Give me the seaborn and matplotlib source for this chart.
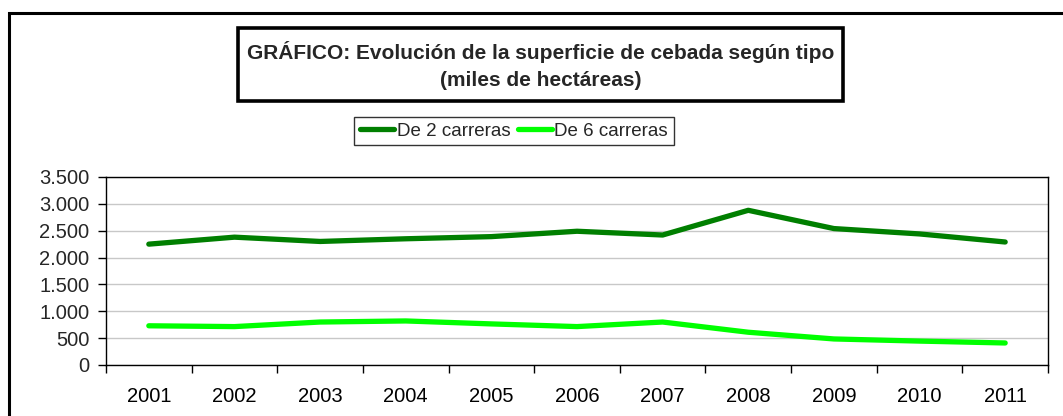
import numpy as np
import pandas as pd
import matplotlib
matplotlib.use("Agg")
import matplotlib.pyplot as plt
import seaborn as sns
from matplotlib.patches import Rectangle
from matplotlib.ticker import FixedLocator, FuncFormatter

years = ["2001", "2002", "2003", "2004", "2005", "2006", "2007", "2008", "2009", "2010", "2011"]
dos_carreras = [2250, 2380, 2300, 2350, 2390, 2490, 2420, 2880, 2540, 2440, 2290]
seis_carreras = [730, 715, 800, 820, 765, 715, 800, 610, 485, 445, 410]
series_names = ["De 2 carreras", "De 6 carreras"]
colors = ["#007f00", "#00ff00"]

df = pd.concat([
    pd.DataFrame({"year": years, "value": dos_carreras, "serie": series_names[0]}),
    pd.DataFrame({"year": years, "value": seis_carreras, "serie": series_names[1]}),
])

sns.set_style("white")
plt.rcParams["font.family"] = ["Liberation Sans", "DejaVu Sans"]

fig = plt.figure(figsize=(10.63, 4.16), dpi=100)
fig.patch.set_facecolor("white")
W, H = 1063, 416

def fx(px): return px / W
def fy(py): return 1 - py / H

ax = fig.add_axes([fx(106), fy(365), fx(1048) - fx(106), fy(177) - fy(365)])
sns.lineplot(data=df, x="year", y="value", hue="serie", palette=colors,
             linewidth=3.8, sort=False, legend=False, ax=ax,
             solid_capstyle="round")

ax.set_xlim(-0.5, len(years) - 0.5)
ax.set_ylim(0, 3500)
ax.set_yticks(np.arange(0, 3501, 500))
ax.yaxis.set_major_formatter(FuncFormatter(lambda v, p: f"{int(v):,}".replace(",", ".")))
ax.set_xticks(range(len(years)))
ax.set_xticklabels(years)
ax.xaxis.set_minor_locator(FixedLocator(np.arange(-0.5, len(years), 1.0)))
ax.tick_params(axis="x", which="major", length=0, pad=16, labelsize=14.5, colors="black")
ax.tick_params(axis="x", which="minor", bottom=True, length=6, width=1, color="black", direction="out")
ax.tick_params(axis="y", left=True, length=6, width=1, color="black", labelsize=14.5, pad=6, direction="out")
ax.set_xlabel(""); ax.set_ylabel("")
ax.grid(axis="y", color="#c8c8c8", linewidth=1)
ax.set_axisbelow(True)
for s in ax.spines.values():
    s.set_visible(True); s.set_color("black"); s.set_linewidth(1)

# outer frame
fig.add_artist(Rectangle((fx(9), fy(430)), fx(1080) - fx(9), fy(13) - fy(430),
                         transform=fig.transFigure, fill=False, edgecolor="black",
                         linewidth=2.2, clip_on=False))

# title box
fig.add_artist(Rectangle((fx(238), fy(101)), fx(843) - fx(238), fy(28) - fy(101),
                         transform=fig.transFigure, fill=False, edgecolor="black",
                         linewidth=2.6))
fig.text(fx(541), fy(52), "GRÁFICO: Evolución de la superficie de cebada según tipo",
         ha="center", va="center", fontsize=15, fontweight="bold")
fig.text(fx(541), fy(80), "(miles de hectáreas)",
         ha="center", va="center", fontsize=15, fontweight="bold")

# legend box
handles = [plt.Line2D([], [], color=c, linewidth=3.8, solid_capstyle="round") for c in colors]
leg = fig.legend(handles, series_names, loc="center", bbox_to_anchor=(fx(514), fy(131)),
                 ncol=2, frameon=True, fancybox=False, fontsize=13.5,
                 handlelength=1.8, handletextpad=0.15, columnspacing=0.4,
                 borderpad=0.3, borderaxespad=0)
leg.get_frame().set_edgecolor("black")
leg.get_frame().set_linewidth(1)

fig.savefig("out.png", dpi=100)
